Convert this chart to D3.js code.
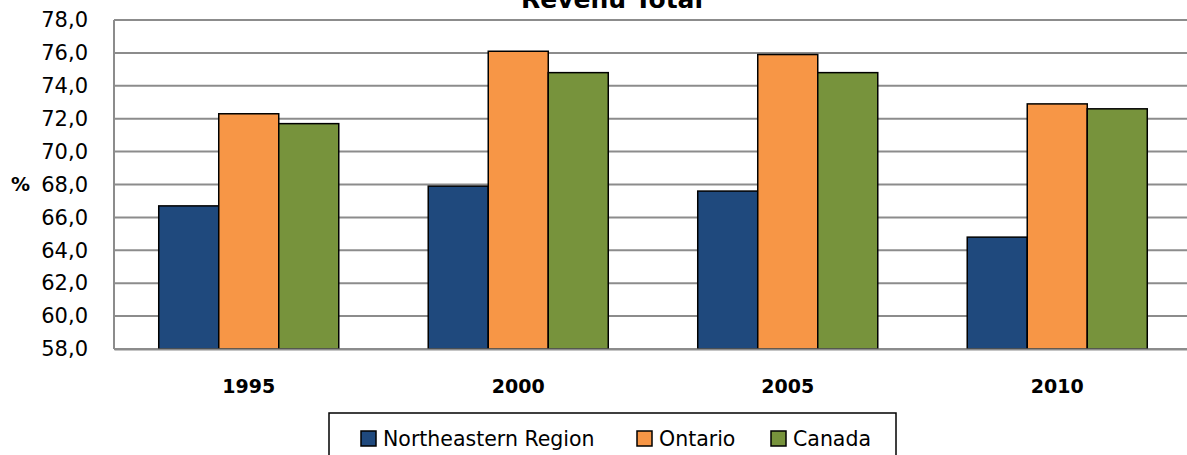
<!DOCTYPE html>
<html>
<head>
<meta charset="utf-8">
<script src="https://cdn.jsdelivr.net/npm/d3@7"></script>
<style>
  body { margin: 0; background: #fff; }
  svg { display: block; font-family: "DejaVu Sans", sans-serif; }
</style>
</head>
<body>
<svg id="chart" width="1187" height="455"></svg>
<script>
var years = ['1995', '2000', '2005', '2010'];
var seriesNames = ['Northeastern Region', 'Ontario', 'Canada'];
var northeastern = [66.7, 67.9, 67.6, 64.8];
var ontario = [72.3, 76.1, 75.9, 72.9];
var canada = [71.7, 74.8, 74.8, 72.6];
var yTicks = [58, 60, 62, 64, 66, 68, 70, 72, 74, 76, 78];
var colors = ['#1f497d', '#f79646', '#77933c'];

var svg = d3.select('#chart');
var plotLeft = 114, plotRight = 1192, plotTop = 20, plotBottom = 349;
var font = '"DejaVu Sans", sans-serif';

var x = d3.scaleBand().domain(years).range([plotLeft, plotRight])
    .paddingInner(0.332).paddingOuter(0.166);
var xs = d3.scaleBand().domain(seriesNames).range([0, x.bandwidth()]);
var y = d3.scaleLinear().domain([58, 78]).range([plotBottom, plotTop]);

var rows = years.map(function(yr, i) {
    return { year: yr, values: [northeastern[i], ontario[i], canada[i]] };
});

// gridlines
svg.append('g').selectAll('line').data(yTicks).enter().append('line')
    .attr('x1', plotLeft).attr('x2', plotRight)
    .attr('y1', function(d) { return y(d); })
    .attr('y2', function(d) { return y(d); })
    .attr('stroke', '#8c8c8c').attr('stroke-width', 2);

// left axis line
svg.append('line').attr('x1', plotLeft).attr('x2', plotLeft).attr('y1', plotTop).attr('y2', plotBottom)
    .attr('stroke', '#8c8c8c').attr('stroke-width', 2);

// y tick labels
var yAxis = d3.axisLeft(y).tickValues(yTicks).tickSize(0).tickPadding(26)
    .tickFormat(function(d) { return d3.format('.1f')(d).replace('.', ','); });
var ya = svg.append('g').attr('transform', 'translate(' + plotLeft + ',0)').call(yAxis);
ya.select('.domain').remove();
ya.selectAll('text').attr('font-size', 21).attr('fill', '#000').attr('font-family', font);

svg.append('text').attr('x', 20.5).attr('y', y(68)).attr('dy', '0.35em')
    .attr('text-anchor', 'middle').attr('font-weight', 'bold').attr('font-size', 19)
    .text('%');

// bars
var groups = svg.append('g').selectAll('g').data(rows).enter().append('g')
    .attr('transform', function(d) { return 'translate(' + x(d.year) + ',0)'; });
groups.selectAll('rect').data(function(d) { return d.values; }).enter().append('rect')
    .attr('x', function(d, i) { return xs(seriesNames[i]); })
    .attr('y', function(d) { return y(d); })
    .attr('width', xs.bandwidth())
    .attr('height', function(d) { return plotBottom - y(d); })
    .attr('fill', function(d, i) { return colors[i]; })
    .attr('stroke', '#000').attr('stroke-width', 1.5);

// x labels
var xAxis = d3.axisBottom(x).tickSize(0).tickPadding(31);
var xa = svg.append('g').attr('transform', 'translate(0,' + plotBottom + ')').call(xAxis);
xa.select('.domain').attr('stroke', '#8c8c8c').attr('stroke-width', 2);
xa.selectAll('text').attr('font-size', 19).attr('font-weight', 'bold').attr('fill', '#000')
    .attr('font-family', font);

// title (cut at top)
svg.append('text').attr('x', 612).attr('y', 8).attr('text-anchor', 'middle')
    .attr('font-size', 25).attr('font-weight', 'bold').text('Revenu Total');

// legend
svg.append('rect').attr('x', 329).attr('y', 413).attr('width', 567).attr('height', 60)
    .attr('fill', '#fff').attr('stroke', '#000').attr('stroke-width', 1.5);
var legendX = [361, 637, 771];
var lg = svg.append('g').selectAll('g').data(seriesNames).enter().append('g')
    .attr('transform', function(d, i) { return 'translate(' + legendX[i] + ',431)'; });
lg.append('rect').attr('width', 15).attr('height', 15)
    .attr('fill', function(d, i) { return colors[i]; })
    .attr('stroke', '#000').attr('stroke-width', 1.5);
lg.append('text').attr('x', 22).attr('y', 15)
    .attr('font-size', 20.5).text(function(d) { return d; });
</script>
</body>
</html>
